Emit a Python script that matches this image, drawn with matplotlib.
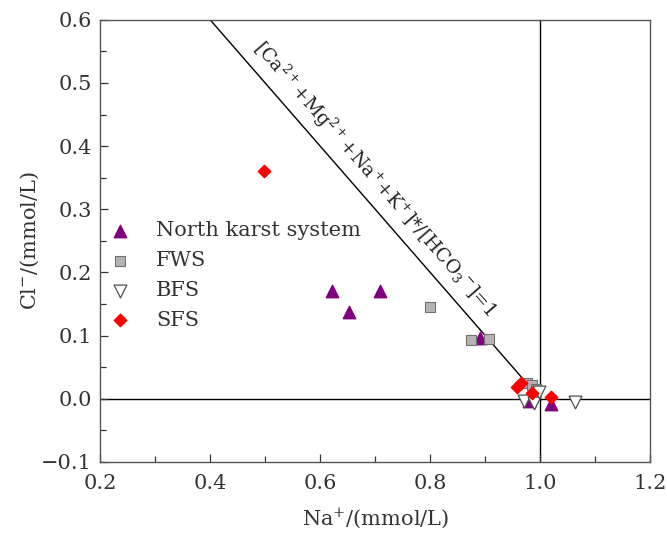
import matplotlib
matplotlib.use("Agg")
import matplotlib.pyplot as plt
from matplotlib.ticker import MultipleLocator, FuncFormatter

plt.rcParams['font.family'] = ['DejaVu Serif', 'Liberation Serif']
plt.rcParams['mathtext.fontset'] = 'custom'
plt.rcParams['mathtext.rm'] = 'DejaVu Serif'
plt.rcParams['mathtext.it'] = 'DejaVu Serif'

# Data (Na+, Cl-) in mmol/L
nks_x = [0.622, 0.653, 0.709, 0.891, 0.980, 1.020]
nks_y = [0.170, 0.138, 0.170, 0.096, -0.004, -0.008]
fws_x = [0.800, 0.875, 0.907, 0.975, 0.985, 0.993]
fws_y = [0.145, 0.093, 0.095, 0.025, 0.021, 0.016]
bfs_x = [0.971, 0.989, 0.998, 1.064]
bfs_y = [-0.004, -0.006, 0.011, -0.005]
sfs_x = [0.498, 0.958, 0.965, 0.985, 1.020]
sfs_y = [0.360, 0.019, 0.025, 0.009, 0.002]
line_x = [0.4, 1.0]
line_y = [0.6, 0.0]

fig = plt.figure(figsize=(6.67, 5.34), dpi=100)
ax = fig.add_axes([0.150, 0.135, 0.825, 0.828])

ax.plot(line_x, line_y, color='black', lw=1.0, zorder=1)
ax.axvline(1.0, color='black', lw=1.0, zorder=1)
ax.axhline(0.0, color='black', lw=1.0, zorder=1)

ax.scatter(nks_x, nks_y, marker='^', s=80, color='#800080', zorder=3, label='North karst system')
ax.scatter(fws_x, fws_y, marker='s', s=45, facecolor='#b4b4b4', edgecolor='#707070', lw=0.8, zorder=3, label='FWS')
ax.scatter(bfs_x, bfs_y, marker='v', s=85, facecolor='white', edgecolor='#505050', lw=0.9, zorder=3, label='BFS')
ax.scatter(sfs_x, sfs_y, marker='D', s=40, color='#ff0000', zorder=4, label='SFS')

ax.set_xlim(0.2, 1.2)
ax.set_ylim(-0.1, 0.6)
ax.xaxis.set_major_locator(MultipleLocator(0.2))
ax.xaxis.set_minor_locator(MultipleLocator(0.1))
ax.yaxis.set_major_locator(MultipleLocator(0.1))
ax.yaxis.set_minor_locator(MultipleLocator(0.05))
fmt = FuncFormatter(lambda v, p: ('%.1f' % v).replace('-', '\u2212'))
ax.xaxis.set_major_formatter(fmt)
ax.yaxis.set_major_formatter(fmt)
ax.tick_params(which='both', direction='in', top=False, right=False, colors='#333333', labelsize=15)
ax.tick_params(which='major', length=6, width=0.9)
ax.tick_params(which='minor', length=4, width=0.9)
ax.tick_params(axis='x', which='major', pad=9)
ax.tick_params(axis='y', which='major', pad=6)
for s in ax.spines.values():
    s.set_color('#555555')
    s.set_linewidth(1.0)

ax.set_xlabel('Na$^{+}$/(mmol/L)', fontsize=15, color='#333333', labelpad=10)
ax.set_ylabel('Cl$^{-}$/(mmol/L)', fontsize=15, color='#333333', labelpad=0)

ax.text(0.700, 0.349, '[Ca$^{2+}$+Mg$^{2+}$+Na$^{+}$+K$^{+}$]*/[HCO$_{3}$$^{-}$]=1',
        transform=ax.transData, rotation=-45, transform_rotates_text=True,
        rotation_mode='anchor', ha='center', va='center', fontsize=13.5, color='#222222')

leg = ax.legend(loc='upper left', bbox_to_anchor=(0.0, 0.563), frameon=False,
                fontsize=15, handletextpad=1.2, labelspacing=0.52, borderaxespad=0.0,
                borderpad=0.4, handlelength=1.1)
for t in leg.get_texts():
    t.set_color('#333333')

fig.savefig('out.png', dpi=100)
